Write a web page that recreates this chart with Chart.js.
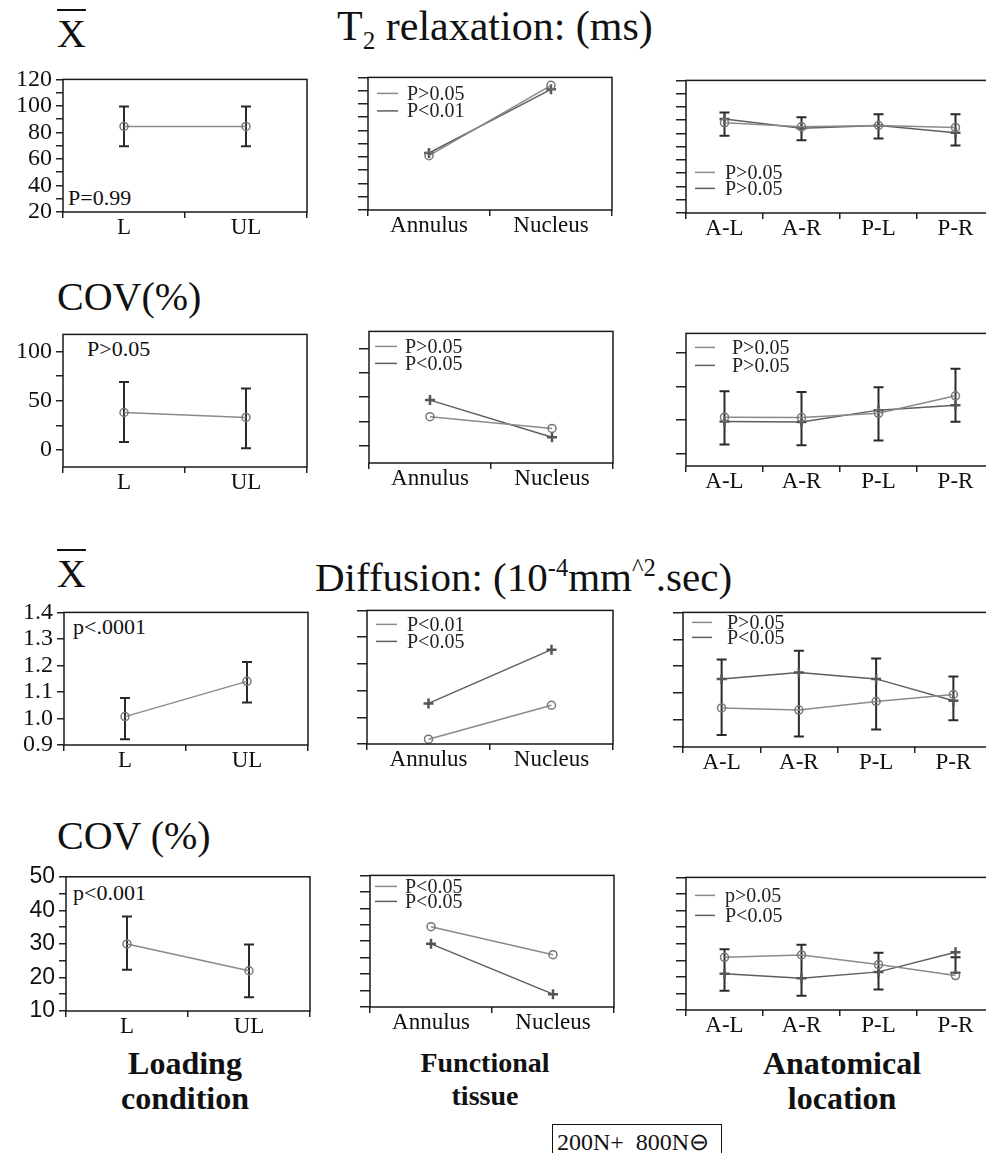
<!DOCTYPE html>
<html>
<head>
<meta charset="utf-8">
<script src="https://cdn.jsdelivr.net/npm/chart.js@4.4.1/dist/chart.umd.min.js"></script>
<style>
  body { margin: 0; width: 986px; height: 1153px; overflow: hidden; background: #fff; position: relative; font-family: "Liberation Serif", serif; color: #111; }
  .t { position: absolute; white-space: nowrap; line-height: 1; }
  .t sub, .t sup { font-size: 0.6em; line-height: 0; }
  .b { font-weight: bold; text-align: center; line-height: 1; }
  canvas { position: absolute; }
  #key { position: absolute; left: 552px; top: 1124px; width: 168px; height: 40px; border: 1.5px solid #111; }
</style>
</head>
<body>

<div class="t" style="left:57px;top:14px;font-size:40px;text-decoration:overline;text-decoration-thickness:2px;">X</div>
<div class="t" style="left:337px;top:5px;font-size:42px;">T<sub>2</sub> relaxation: (ms)</div>
<div class="t" style="left:57px;top:277px;font-size:40px;">COV(%)</div>
<div class="t" style="left:57px;top:554px;font-size:40px;text-decoration:overline;text-decoration-thickness:2px;">X</div>
<div class="t" style="left:315px;top:557px;font-size:41px;">Diffusion: (10<sup>-4</sup>mm<sup>^2</sup>.sec)</div>
<div class="t" style="left:57px;top:816px;font-size:40px;">COV (%)</div>

<div class="t" style="left:68px;top:187px;font-size:22px;">P=0.99</div>
<div class="t" style="left:87px;top:338px;font-size:22px;">P&gt;0.05</div>
<div class="t" style="left:73px;top:616px;font-size:22px;">p&lt;.0001</div>
<div class="t" style="left:73px;top:882px;font-size:22px;">p&lt;0.001</div>

<div class="t b" style="left:85px;width:200px;top:1046px;font-size:32px;line-height:35px;">Loading<br>condition</div>
<div class="t b" style="left:385px;width:200px;top:1046px;font-size:28px;line-height:33px;">Functional<br>tissue</div>
<div class="t b" style="left:742px;width:200px;top:1046px;font-size:32px;line-height:35px;">Anatomical<br>location</div>

<div id="key"><div class="t" style="left:4px;top:5px;font-size:24px;">200N+&nbsp; 800N⊖</div></div>

<script>
// categories
const loadCats = ['L', 'UL'];
const tissueCats = ['Annulus', 'Nucleus'];
const locCats = ['A-L', 'A-R', 'P-L', 'P-R'];

// T2 relaxation, mean (ms)
const t2MeanLoad = [84.5, 84.5];
const t2MeanLoadHi = [99.5, 99.5];
const t2MeanLoadLo = [69.5, 69.5];
const t2MeanTissue800 = [61, 114];
const t2MeanTissue200 = [63, 111];
const t2MeanLoc800 = [88, 85, 86, 84.5];
const t2MeanLoc200 = [90.8, 84, 86, 80.6];
const t2MeanLocHi = [95.7, 92.3, 94.5, 94.5];
const t2MeanLocLo = [78.2, 74.8, 76.2, 70.9];

// T2 relaxation, COV (%)
const t2CovLoad = [38, 33];
const t2CovLoadHi = [69, 62.5];
const t2CovLoadLo = [8, 1.6];
const t2CovTissue800 = [30, 18];
const t2CovTissue200 = [47, 9];
const t2CovLoc800 = [41.7, 41.5, 44, 54.4];
const t2CovLoc200 = [39.2, 38.8, 45.9, 48.8];
const t2CovLocHi = [57.1, 56.7, 59.5, 70.5];
const t2CovLocLo = [25.5, 25, 27.8, 39];

// Diffusion, mean
const difMeanLoad = [1.007, 1.140];
const difMeanLoadHi = [1.077, 1.213];
const difMeanLoadLo = [0.922, 1.060];
const difMeanTissue800 = [0.918, 1.045];
const difMeanTissue200 = [1.052, 1.253];
const difMeanLoc800 = [1.045, 1.037, 1.069, 1.095];
const difMeanLoc200 = [1.153, 1.177, 1.153, 1.072];
const difMeanLocHi = [1.225, 1.258, 1.229, 1.162];
const difMeanLocLo = [0.945, 0.939, 0.965, 0.999];

// Diffusion, COV (%)
const difCovLoad = [30, 22];
const difCovLoadHi = [38.2, 29.8];
const difCovLoadLo = [22.3, 14.1];
const difCovTissue800 = [34.4, 25.9];
const difCovTissue200 = [29.2, 13.9];
const difCovLoc800 = [25.9, 26.6, 23.7, 20.4];
const difCovLoc200 = [20.9, 19.6, 21.5, 27.4];
const difCovLocHi = [28.3, 29.7, 27.3, 25.9];
const difCovLocLo = [15.8, 14.3, 16.2, 21.2];

// tick labels shown on the left column
const t2MeanTicks = [20, 40, 60, 80, 100, 120];
const t2CovTicks = [0, 50, 100];
const difMeanTicks = [0.9, 1.0, 1.1, 1.2, 1.3, 1.4];
const difCovTicks = [10, 20, 30, 40, 50];

// p-value legends (800N line first, 200N line second)
const pT2MeanTissue = ['P>0.05', 'P<0.01'];
const pT2MeanLoc = ['P>0.05', 'P>0.05'];
const pT2CovTissue = ['P>0.05', 'P<0.05'];
const pT2CovLoc = ['P>0.05', 'P>0.05'];
const pDifMeanTissue = ['P<0.01', 'P<0.05'];
const pDifMeanLoc = ['P>0.05', 'P<0.05'];
const pDifCovTissue = ['P<0.05', 'P<0.05'];
const pDifCovLoc = ['p>0.05', 'P<0.05'];

const c800 = '#8a8a8a', c200 = '#5e5e5e';

const boxPlugin = {
  id: 'box',
  afterDraw(chart) {
    const { ctx, chartArea: a } = chart;
    ctx.save();
    ctx.strokeStyle = '#1a1a1a';
    ctx.lineWidth = 1.5;
    ctx.strokeRect(a.left, a.top, a.right - a.left, a.bottom - a.top);
    ctx.restore();
  }
};

const errPlugin = {
  id: 'errBars',
  beforeDatasetsDraw(chart, args, o) {
    if (!o.hi) return;
    const { ctx, scales: { x, y } } = chart;
    ctx.save();
    ctx.strokeStyle = '#2a2a2a';
    ctx.lineWidth = 2;
    o.hi.forEach((hv, i) => {
      const px = x.getPixelForValue(i);
      const y1 = y.getPixelForValue(hv), y2 = y.getPixelForValue(o.lo[i]);
      ctx.beginPath();
      ctx.moveTo(px, y1); ctx.lineTo(px, y2);
      ctx.moveTo(px - 5, y1); ctx.lineTo(px + 5, y1);
      ctx.moveTo(px - 5, y2); ctx.lineTo(px + 5, y2);
      ctx.stroke();
    });
    ctx.restore();
  }
};

const pLegendPlugin = {
  id: 'pLegend',
  afterDraw(chart, args, o) {
    if (!o.dy) return;
    const { ctx, chartArea: a } = chart;
    ctx.save();
    ctx.font = '20px "Liberation Serif"';
    ctx.textBaseline = 'middle';
    chart.data.datasets.forEach((ds, i) => {
      const yy = a.top + o.y + i * o.dy;
      ctx.strokeStyle = ds.borderColor;
      ctx.lineWidth = 1.5;
      ctx.beginPath();
      ctx.moveTo(a.left + o.x0, yy);
      ctx.lineTo(a.left + o.x1, yy);
      ctx.stroke();
      ctx.fillStyle = '#222';
      ctx.fillText(ds.label, a.left + o.tx, yy + 1);
    });
    ctx.restore();
  }
};

function series800(label, data) {
  return { label, data, borderColor: c800, borderWidth: 1.5, tension: 0,
    pointStyle: 'circle', pointRadius: 4, pointBorderColor: '#767676',
    pointBackgroundColor: 'rgba(0,0,0,0)', pointBorderWidth: 1.5 };
}
function series200(label, data) {
  return { label, data, borderColor: c200, borderWidth: 1.5, tension: 0,
    pointStyle: 'cross', pointRadius: 5, pointBorderColor: '#555',
    pointBorderWidth: 2.5 };
}

function makePanel(p) {
  const padL = 70, padT = 14, padR = 8, padB = 40;
  const [L, T, R, B] = p.box;
  const w = R - L + padL + padR, h = B - T + padT + padB;
  const cv = document.createElement('canvas');
  cv.width = w; cv.height = h;
  cv.style.left = (L - padL) + 'px';
  cv.style.top = (T - padT) + 'px';
  cv.style.width = w + 'px';
  cv.style.height = h + 'px';
  document.body.appendChild(cv);

  new Chart(cv, {
    type: 'line',
    data: { labels: p.cats, datasets: p.series },
    options: {
      responsive: false,
      animation: false,
      events: [],
      layout: { padding: { top: padT, right: padR, left: 0, bottom: 0 } },
      plugins: {
        legend: { display: false },
        tooltip: { enabled: false },
        errBars: { hi: p.hi, lo: p.lo },
        pLegend: p.legend || {}
      },
      scales: {
        x: {
          type: 'category',
          offset: true,
          afterFit: s => { s.height = padB; },
          border: { display: false },
          grid: { offset: true, drawOnChartArea: false, tickLength: 6, color: '#222', lineWidth: 1.5 },
          ticks: { color: '#111', font: { family: 'Liberation Serif', size: 23 }, padding: -4, autoSkip: false, maxRotation: 0 }
        },
        y: {
          min: p.min, max: p.max,
          afterFit: s => { s.width = padL; },
          border: { display: false },
          grid: { drawOnChartArea: false, tickLength: p.tickLen || 7, color: '#222', lineWidth: 1.5 },
          ticks: {
            stepSize: p.step,
            includeBounds: false,
            autoSkip: false,
            padding: 4,
            color: '#111',
            font: { family: p.sans ? 'Liberation Sans' : 'Liberation Serif', size: p.sans ? 23 : 24 },
            callback: v => {
              if (!p.labels) return '';
              const hit = p.labels.find(t => Math.abs(t - v) < 1e-6);
              return hit === undefined ? '' : (p.fixed ? hit.toFixed(p.fixed) : String(hit));
            }
          }
        }
      }
    },
    plugins: [boxPlugin, errPlugin, pLegendPlugin]
  });
}

// row 1: T2 mean
makePanel({ box: [63, 75, 307, 212], cats: loadCats, min: 20, max: 120, step: 10, labels: t2MeanTicks,
  series: [series800('800N', t2MeanLoad)], hi: t2MeanLoadHi, lo: t2MeanLoadLo });
makePanel({ box: [368, 73, 612, 210], cats: tissueCats, min: 20, max: 120, step: 10, tickLen: 10,
  series: [series800(pT2MeanTissue[0], t2MeanTissue800), series200(pT2MeanTissue[1], t2MeanTissue200)],
  legend: { y: 16, dy: 17.5, x0: 9, x1: 30, tx: 39 } });
makePanel({ box: [686, 76, 994, 213], cats: locCats, min: 20, max: 120, step: 10, tickLen: 10,
  series: [series800(pT2MeanLoc[0], t2MeanLoc800), series200(pT2MeanLoc[1], t2MeanLoc200)],
  hi: t2MeanLocHi, lo: t2MeanLocLo,
  legend: { y: 92, dy: 16, x0: 9, x1: 29, tx: 39 } });

// row 2: T2 COV
makePanel({ box: [63, 330, 307, 467], cats: loadCats, min: -17.5, max: 117.5, step: 25, labels: t2CovTicks,
  series: [series800('800N', t2CovLoad)], hi: t2CovLoadHi, lo: t2CovLoadLo });
makePanel({ box: [369, 327, 613, 463], cats: tissueCats, min: -17.5, max: 117.5, step: 25, tickLen: 10,
  series: [series800(pT2CovTissue[0], t2CovTissue800), series200(pT2CovTissue[1], t2CovTissue200)],
  legend: { y: 15, dy: 17, x0: 6, x1: 28, tx: 36 } });
makePanel({ box: [686, 329, 994, 466], cats: locCats, min: 12.7, max: 91.5, step: 20, tickLen: 10,
  series: [series800(pT2CovLoc[0], t2CovLoc800), series200(pT2CovLoc[1], t2CovLoc200)],
  hi: t2CovLocHi, lo: t2CovLocLo,
  legend: { y: 14, dy: 18, x0: 9, x1: 29, tx: 46 } });

// row 3: diffusion mean
makePanel({ box: [64, 608, 308, 745], cats: loadCats, min: 0.9, max: 1.4, step: 0.1, labels: difMeanTicks, fixed: 1,
  series: [series800('800N', difMeanLoad)], hi: difMeanLoadHi, lo: difMeanLoadLo });
makePanel({ box: [367, 606, 613, 744], cats: tissueCats, min: 0.9, max: 1.4, step: 0.1, tickLen: 10,
  series: [series800(pDifMeanTissue[0], difMeanTissue800), series200(pDifMeanTissue[1], difMeanTissue200)],
  legend: { y: 14, dy: 17, x0: 9, x1: 30, tx: 40 } });
makePanel({ box: [683, 608, 992, 747], cats: locCats, min: 0.9, max: 1.4, step: 0.1, tickLen: 10,
  series: [series800(pDifMeanLoc[0], difMeanLoc800), series200(pDifMeanLoc[1], difMeanLoc200)],
  hi: difMeanLocHi, lo: difMeanLocLo,
  legend: { y: 10, dy: 15, x0: 9, x1: 29, tx: 44 } });

// row 4: diffusion COV
makePanel({ box: [66, 873, 310, 1011], cats: loadCats, min: 10, max: 50, step: 5, labels: difCovTicks, sans: true,
  series: [series800('800N', difCovLoad)], hi: difCovLoadHi, lo: difCovLoadLo });
makePanel({ box: [370, 871, 614, 1007], cats: tissueCats, min: 10, max: 50, step: 5, tickLen: 10,
  series: [series800(pDifCovTissue[0], difCovTissue800), series200(pDifCovTissue[1], difCovTissue200)],
  legend: { y: 11, dy: 15, x0: 5, x1: 27, tx: 35 } });
makePanel({ box: [686, 873, 994, 1010], cats: locCats, min: 10, max: 50, step: 5, tickLen: 10,
  series: [series800(pDifCovLoc[0], difCovLoc800), series200(pDifCovLoc[1], difCovLoc200)],
  hi: difCovLocHi, lo: difCovLocLo,
  legend: { y: 18, dy: 20, x0: 9, x1: 29, tx: 39 } });
</script>
</body>
</html>
